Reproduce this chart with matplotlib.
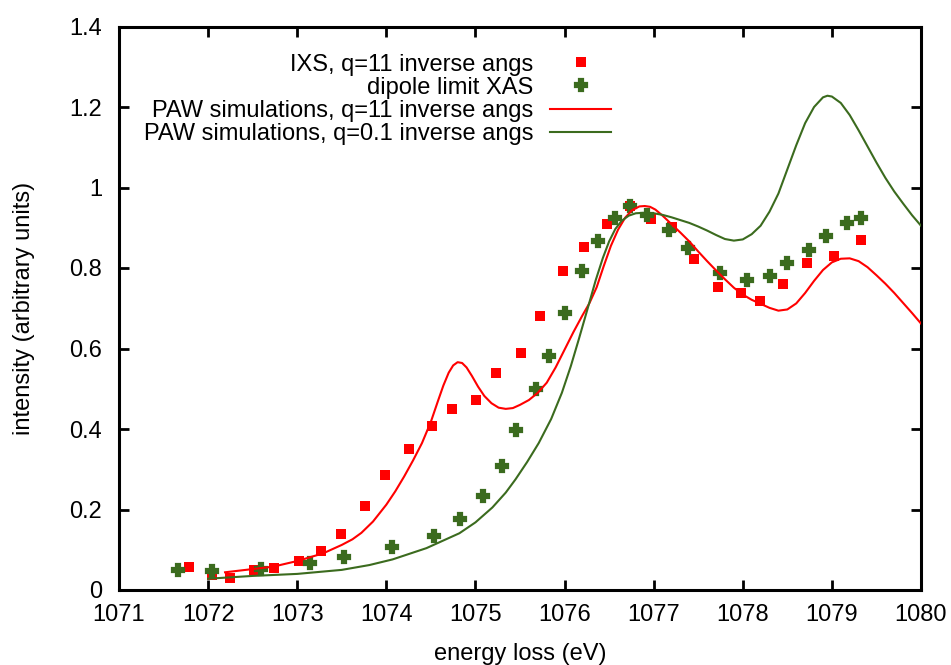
import matplotlib
matplotlib.use("Agg")
import matplotlib.pyplot as plt

plt.rcParams['font.family'] = ['Liberation Sans', 'DejaVu Sans']

# IXS, q=11 inverse angs (markers)
ixs_e = [1071.78, 1072.04, 1072.25, 1072.51, 1072.74, 1073.02, 1073.27, 1073.49, 1073.76,
         1073.99, 1074.25, 1074.51, 1074.74, 1075.01, 1075.23, 1075.51, 1075.72, 1075.98,
         1076.22, 1076.48, 1076.74, 1076.97, 1077.21, 1077.45, 1077.72, 1077.98, 1078.19,
         1078.45, 1078.72, 1079.02, 1079.33]
ixs_v = [0.058, 0.037, 0.029, 0.050, 0.054, 0.072, 0.097, 0.139, 0.209,
         0.285, 0.350, 0.407, 0.449, 0.472, 0.538, 0.590, 0.680, 0.793,
         0.851, 0.909, 0.955, 0.922, 0.901, 0.822, 0.754, 0.737, 0.717,
         0.760, 0.812, 0.831, 0.869]

# dipole limit XAS (markers)
xas_e = [1071.66, 1072.04, 1072.59, 1073.14, 1073.53, 1074.06, 1074.54, 1074.83, 1075.09,
         1075.30, 1075.46, 1075.68, 1075.82, 1076.01, 1076.20, 1076.38, 1076.57, 1076.74,
         1076.93, 1077.17, 1077.38, 1077.74, 1078.05, 1078.31, 1078.50, 1078.74, 1078.93,
         1079.17, 1079.33]
xas_v = [0.050, 0.048, 0.053, 0.068, 0.083, 0.106, 0.135, 0.177, 0.234,
         0.309, 0.398, 0.499, 0.581, 0.688, 0.793, 0.867, 0.923, 0.954,
         0.932, 0.895, 0.849, 0.788, 0.770, 0.779, 0.812, 0.845, 0.879,
         0.911, 0.925]

# PAW simulations, q=11 inverse angs (line)
paw11_e = [1072.19, 1072.5, 1072.73, 1073.0, 1073.29, 1073.5, 1073.62, 1073.72, 1073.85,
           1074.0, 1074.1, 1074.2, 1074.3, 1074.4, 1074.5, 1074.58, 1074.64, 1074.7, 1074.75,
           1074.8, 1074.85, 1074.9, 1074.96, 1075.03, 1075.1, 1075.18, 1075.26, 1075.34,
           1075.42, 1075.5, 1075.6, 1075.7, 1075.8, 1075.9, 1076.0, 1076.1, 1076.2,
           1076.28, 1076.36, 1076.44, 1076.52, 1076.6, 1076.68, 1076.76, 1076.84, 1076.9,
           1076.96, 1077.02, 1077.1, 1077.2, 1077.3, 1077.4, 1077.5, 1077.6, 1077.7,
           1077.8, 1077.9, 1078.0, 1078.1, 1078.2, 1078.3, 1078.4, 1078.5, 1078.6,
           1078.7, 1078.8, 1078.9, 1079.0, 1079.1, 1079.2, 1079.3, 1079.4, 1079.5,
           1079.6, 1079.7, 1079.8, 1079.9, 1080.0]
paw11_v = [0.044, 0.052, 0.058, 0.072, 0.091, 0.112, 0.126, 0.142, 0.170,
           0.212, 0.245, 0.282, 0.322, 0.365, 0.418, 0.470, 0.508, 0.540, 0.558,
           0.566, 0.564, 0.553, 0.532, 0.505, 0.482, 0.464, 0.453, 0.450,
           0.452, 0.460, 0.472, 0.490, 0.515, 0.553, 0.597, 0.641, 0.682,
           0.713, 0.752, 0.805, 0.855, 0.895, 0.925, 0.944, 0.953, 0.954,
           0.952, 0.945, 0.930, 0.909, 0.888, 0.866, 0.841, 0.817, 0.794,
           0.772, 0.751, 0.734, 0.721, 0.711, 0.701, 0.694, 0.697, 0.712,
           0.738, 0.768, 0.795, 0.814, 0.823, 0.824, 0.817, 0.802, 0.782,
           0.761, 0.738, 0.713, 0.688, 0.662]

# PAW simulations, q=0.1 inverse angs (line)
paw01_e = [1072.0, 1072.5, 1073.0, 1073.5, 1073.81, 1074.07, 1074.45, 1074.82, 1075.0,
           1075.19, 1075.34, 1075.45, 1075.58, 1075.71, 1075.85, 1075.97, 1076.07, 1076.16,
           1076.26, 1076.35, 1076.43, 1076.5, 1076.57, 1076.64, 1076.72, 1076.8, 1076.88,
           1077.0, 1077.1, 1077.2, 1077.3, 1077.4, 1077.5, 1077.6, 1077.7, 1077.8,
           1077.9, 1078.0, 1078.1, 1078.2, 1078.3, 1078.4, 1078.5, 1078.6, 1078.7,
           1078.8, 1078.9, 1078.95, 1079.0, 1079.1, 1079.2, 1079.3, 1079.4, 1079.5,
           1079.6, 1079.7, 1079.8, 1079.9, 1080.0]
paw01_v = [0.028, 0.035, 0.040, 0.050, 0.062, 0.076, 0.104, 0.141, 0.168,
           0.205, 0.242, 0.275, 0.318, 0.365, 0.425, 0.490, 0.556, 0.623,
           0.700, 0.770, 0.825, 0.866, 0.897, 0.917, 0.930, 0.936, 0.937,
           0.936, 0.932, 0.926, 0.919, 0.912, 0.903, 0.893, 0.882, 0.872,
           0.868, 0.871, 0.884, 0.905, 0.940, 0.985, 1.045, 1.105, 1.160,
           1.200, 1.224, 1.228, 1.226, 1.210, 1.180, 1.142, 1.102, 1.062,
           1.024, 0.990, 0.960, 0.931, 0.905]

labels = ["IXS, q=11 inverse angs", "dipole limit XAS",
          "PAW simulations, q=11 inverse angs", "PAW simulations, q=0.1 inverse angs"]
xticks = [1071, 1072, 1073, 1074, 1075, 1076, 1077, 1078, 1079, 1080]
yticks = [0, 0.2, 0.4, 0.6, 0.8, 1.0, 1.2, 1.4]
ytick_labels = ["0", "0.2", "0.4", "0.6", "0.8", "1", "1.2", "1.4"]

RED = "#ff0000"
GREEN = "#3b6b1e"
FS = 17

fig = plt.figure(figsize=(9.51, 6.65), dpi=100)
ax = fig.add_axes([119/951, 1-590/665, 802/951, (590-26.5)/665])

ax.plot(ixs_e, ixs_v, linestyle='none', marker='s', markersize=6.5,
        color=RED, markeredgewidth=0, label=labels[0], zorder=3)
ax.plot(xas_e, xas_v, linestyle='none', marker='P', markersize=9,
        color=GREEN, markeredgecolor=GREEN, markeredgewidth=1.6, label=labels[1], zorder=4)
ax.plot(paw11_e, paw11_v, color=RED, linewidth=1.5, label=labels[2], zorder=5)
ax.plot(paw01_e, paw01_v, color=GREEN, linewidth=1.5, label=labels[3], zorder=5)

ax.set_xlim(1071, 1080)
ax.set_ylim(0, 1.4)
ax.set_xticks(xticks)
ax.set_xticklabels([str(t) for t in xticks])
ax.set_yticks(yticks)
ax.set_yticklabels(ytick_labels)
ax.tick_params(direction='in', length=7, width=2, labelsize=FS, top=True, right=True)
ax.tick_params(axis='x', pad=10)
ax.tick_params(axis='y', pad=12)
for s in ax.spines.values():
    s.set_linewidth(2.2)

ax.set_xlabel("energy loss (eV)", fontsize=FS, labelpad=12)
ax.set_ylabel("intensity (arbitrary units)", fontsize=FS, labelpad=25)

leg = ax.legend(loc='upper right', bbox_to_anchor=(0.614, 0.952), frameon=False,
                markerfirst=False, fontsize=FS, handlelength=2.6, handletextpad=0.7,
                labelspacing=0.05, borderpad=0, borderaxespad=0, numpoints=1)

fig.savefig("out.png", dpi=100)
